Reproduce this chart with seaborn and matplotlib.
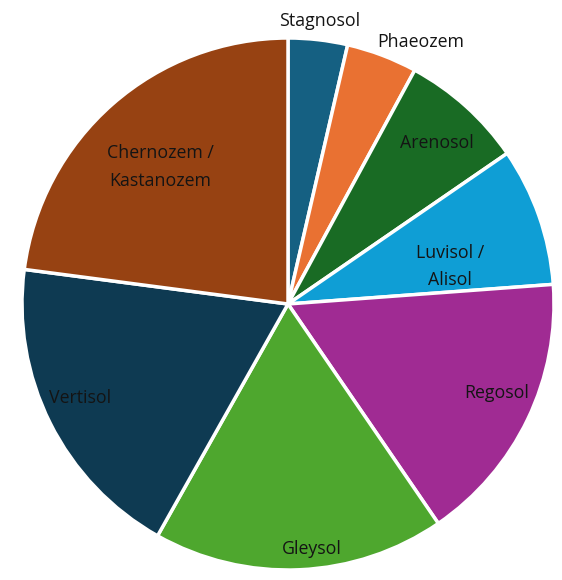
import matplotlib
matplotlib.use("Agg")
import matplotlib.pyplot as plt
import seaborn as sns

# Soil reference groups and their shares (%)
soils = ["Stagnosol", "Phaeozem", "Arenosol", "Luvisol /\nAlisol", "Regosol",
         "Gleysol", "Vertisol", "Chernozem /\nKastanozem"]
shares = [3.6, 4.3, 7.5, 8.4, 16.6, 17.7, 18.9, 22.9]
colors = ["#156082", "#E97132", "#196B24", "#0F9ED5", "#A02B93",
          "#4EA72E", "#0E3A52", "#974212"]

sns.set_theme(style="white")
plt.rcParams["font.family"] = ["Open Sans", "DejaVu Sans"]

W, H = 562, 580
fig = plt.figure(figsize=(W / 100, H / 100), dpi=100)
ax = fig.add_axes([0, 0, 1, 1])

cx, cy, r = 288, H - 304, 266
wedges, _ = ax.pie(shares, colors=sns.color_palette(colors), startangle=90,
                   counterclock=False, center=(cx, cy), radius=r,
                   wedgeprops=dict(edgecolor="white", linewidth=2.5))
ax.set_xlim(0, W)
ax.set_ylim(0, H)
ax.set_aspect("equal")
ax.axis("off")

# label anchor points, in units of the radius from the pie centre
label_pos = [(0.12, 1.065), (0.50, 0.985), (0.56, 0.605), (0.61, 0.14),
             (0.785, -0.335), (0.09, -0.92), (-0.78, -0.355), (-0.48, 0.515)]
for name, (dx, dy) in zip(soils, label_pos):
    ax.text(cx + dx * r, cy + dy * r, name, ha="center", va="center",
            fontsize=12.8, color="#141414", linespacing=1.65)

fig.savefig("out.png", dpi=100)
